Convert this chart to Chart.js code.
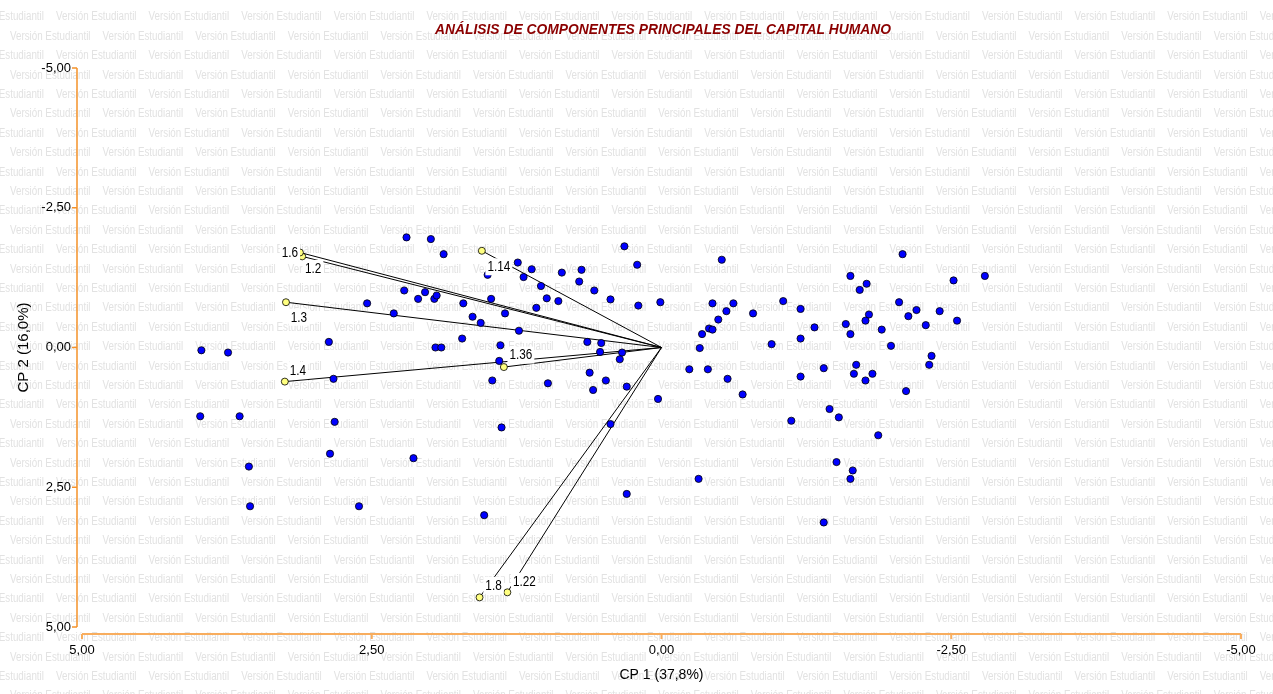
<!DOCTYPE html>
<html>
<head>
<meta charset="utf-8">
<script src="https://cdn.jsdelivr.net/npm/chart.js@4"></script>
<style>
  html, body { margin: 0; padding: 0; background: #ffffff; }
  #wrap { width: 1273px; height: 694px; position: relative; }
</style>
</head>
<body>
<div id="wrap"><canvas id="c"></canvas></div>
<script>
// ---- data ----
const chartTitle = 'ANÁLISIS DE COMPONENTES PRINCIPALES DEL CAPITAL HUMANO';
const xAxisTitle = 'CP 1 (37,8%)';
const yAxisTitle = 'CP 2 (16,0%)';
const watermarkText = 'Versión Estudiantil';

const xTickValues = [5, 2.5, 0, -2.5, -5];
const xTickLabels = ['5,00', '2,50', '0,00', '-2,50', '-5,00'];
const yTickValues = [-5, -2.5, 0, 2.5, 5];
const yTickLabels = ['-5,00', '-2,50', '0,00', '2,50', '5,00'];

// observations (CP1, CP2)
const obsX = [2.20,2.22,2.54,2.31,2.87,3.97,3.74,2.83,3.98,3.64,
  2.82,2.86,3.56,3.55,2.61,1.99,1.88,1.24,1.12,1.19,
  0.86,0.69,0.71,0.58,0.44,1.04,0.99,0.89,1.08,1.50,
  2.04,2.10,1.96,1.94,1.71,1.47,1.35,1.63,1.56,1.23,
  1.72,1.95,1.90,1.39,0.64,0.52,0.53,0.36,1.40,0.62,
  0.48,0.59,1.46,0.98,1.38,0.44,2.14,1.53,0.32,0.21,
  -0.52,0.20,0.01,-0.44,-0.56,-0.62,-0.79,-1.05,-1.20,-0.49,
  -0.41,-0.44,-0.35,-0.95,-1.20,-0.33,0.34,-0.24,-0.40,-0.57,
  -1.20,-0.70,0.30,0.03,-1.12,-0.32,0.30,-2.08,-1.63,-1.77,
  -1.71,-2.52,-2.79,-1.32,-1.59,-1.63,-1.79,-1.76,-1.90,-2.05,
  -2.13,-2.20,-2.40,-2.55,-2.28,-1.98,-2.33,-2.31,-1.40,-1.68,
  -1.66,-1.82,-1.76,-2.11,-1.45,-1.53,-1.87,-1.51,-1.65,-1.63,-1.40];
const obsY = [-1.97,-1.02,-0.79,-0.61,-0.10,0.05,0.09,0.56,1.23,1.23,
  1.33,1.90,2.13,2.84,2.84,-1.94,-1.67,-1.52,-1.40,-1.26,
  -1.34,-1.39,-1.18,-1.02,-0.86,-1.10,-0.88,-0.83,-0.71,-1.30,
  -0.99,-0.87,-0.87,-0.93,-0.79,-0.87,-0.61,-0.55,-0.44,-0.30,
  -0.16,0.00,0.00,-0.04,-0.10,-0.08,0.08,0.21,0.24,0.45,
  0.59,0.76,0.59,0.64,1.43,1.37,1.98,3.00,-1.81,-1.48,
  -1.57,-0.75,-0.81,-0.79,-0.65,-0.79,-0.61,-0.83,-0.69,-0.50,
  -0.34,-0.32,-0.24,-0.06,-0.16,0.01,0.09,0.39,0.39,0.56,
  0.52,0.84,0.70,0.92,1.31,2.35,2.62,-1.67,-1.28,-1.14,
  -1.03,-1.20,-1.28,-0.36,-0.42,-0.24,-0.59,-0.48,-0.32,-0.81,
  -0.56,-0.67,-0.65,-0.48,-0.40,-0.03,0.15,0.31,0.37,0.31,
  0.47,0.47,0.59,0.78,1.10,1.25,1.57,2.05,2.20,2.35,3.13];

// variable vectors (loadings)
const vectorNames = ['1.6', '1.2', '1.3', '1.4', '1.14', '1.36', '1.8', '1.22'];
const vectorX = [3.12, 3.10, 3.24, 3.25, 1.55, 1.36, 1.57, 1.33];
const vectorY = [-1.70, -1.63, -0.81, 0.61, -1.73, 0.35, 4.47, 4.38];

// ---- styles ----
const FONT = '"Liberation Sans", Arial, sans-serif';
const labelOffsets = [[-10,0],[11,12],[13,15],[13,-11],[17,16],[17,-12],[14,-12],[17,-11]];

const backgroundPlugin = {
  id: 'backgroundAndTitle',
  beforeDraw(chart) {
    const ctx = chart.ctx;
    ctx.save();
    ctx.fillStyle = '#ffffff';
    ctx.fillRect(0, 0, chart.width, chart.height);
    // repeated watermark
    ctx.font = '12px ' + FONT;
    ctx.fillStyle = '#e2e2e2';
    ctx.textBaseline = 'middle';
    ctx.textAlign = 'left';
    const period = 92.6;
    for (let k = 0; k < 40; k++) {
      const y = 17 + 19.4 * k;
      if (y > chart.height + 10) break;
      let x = (k % 2 === 0) ? 56 - period : 10 - period;
      for (; x < chart.width; x += period) {
        ctx.fillText(watermarkText, x, y, 80.5);
      }
    }
    ctx.restore();
  },
  afterDraw(chart) {
    const ctx = chart.ctx;
    ctx.save();
    ctx.font = 'italic bold 15px ' + FONT;
    ctx.fillStyle = '#8b0000';
    ctx.textAlign = 'center';
    ctx.textBaseline = 'middle';
    ctx.fillText(chartTitle, 663, 30, 456);
    ctx.restore();
  }
};

const axesPlugin = {
  id: 'customAxes',
  beforeDatasetsDraw(chart) {
    const {ctx, chartArea, scales} = chart;
    const xs = scales.x, ys = scales.y;
    ctx.save();
    // Y axis
    const ax = chartArea.left - 5;
    ctx.strokeStyle = '#f5922a';
    ctx.lineWidth = 1.5;
    ctx.beginPath();
    ctx.moveTo(ax, ys.getPixelForValue(-5));
    ctx.lineTo(ax, ys.getPixelForValue(5));
    yTickValues.forEach(v => {
      const p = ys.getPixelForValue(v);
      ctx.moveTo(ax - 5, p);
      ctx.lineTo(ax, p);
    });
    ctx.stroke();
    // X axis
    const ay = chartArea.bottom + 7;
    ctx.strokeStyle = '#f8ad5e';
    ctx.lineWidth = 2;
    ctx.beginPath();
    ctx.moveTo(xs.getPixelForValue(5), ay);
    ctx.lineTo(xs.getPixelForValue(-5), ay);
    xTickValues.forEach(v => {
      const p = xs.getPixelForValue(v);
      ctx.moveTo(p, ay);
      ctx.lineTo(p, ay + 5);
    });
    ctx.stroke();
    ctx.restore();
  }
};

const labelPlugin = {
  id: 'vectorLabels',
  afterDatasetsDraw(chart) {
    const {ctx, scales} = chart;
    ctx.save();
    ctx.font = '14px ' + FONT;
    ctx.textAlign = 'center';
    ctx.textBaseline = 'middle';
    vectorNames.forEach((name, i) => {
      const px = scales.x.getPixelForValue(vectorX[i]);
      const py = scales.y.getPixelForValue(vectorY[i]);
      const cx = px + labelOffsets[i][0];
      const cy = py + labelOffsets[i][1];
      const tw = ctx.measureText(name).width * 0.84;
      const w = tw + 4;
      const h = 17;
      ctx.fillStyle = '#ffffff';
      ctx.fillRect(cx - w / 2, cy - h / 2, w, h);
      ctx.fillStyle = '#000000';
      ctx.fillText(name, cx, cy + 0.5, tw);
    });
    ctx.restore();
  }
};

const datasets = [];
vectorNames.forEach((name, i) => {
  datasets.push({
    label: name,
    data: [{x: 0, y: 0}, {x: vectorX[i], y: vectorY[i]}],
    showLine: true,
    borderColor: '#000000',
    borderWidth: 1,
    pointRadius: [0, 3.5],
    pointBackgroundColor: '#ffff80',
    pointBorderColor: '#000000',
    pointBorderWidth: 0.8,
    order: 2
  });
});
datasets.push({
  label: 'obs',
  data: obsX.map((x, i) => ({x: x, y: obsY[i]})),
  showLine: false,
  pointRadius: 3.6,
  pointBackgroundColor: '#0000ff',
  pointBorderColor: '#000000',
  pointBorderWidth: 0.8,
  order: 1
});

new Chart(document.getElementById('c'), {
  type: 'scatter',
  data: { datasets },
  options: {
    responsive: true,
    maintainAspectRatio: false,
    animation: false,
    events: [],
    layout: { padding: { left: 0, right: 32, top: 68, bottom: 0 } },
    plugins: {
      legend: { display: false },
      tooltip: { enabled: false },
      title: { display: false }
    },
    scales: {
      x: {
        type: 'linear',
        min: -5, max: 5,
        reverse: true,
        afterFit: s => { s.height = 67; },
        afterBuildTicks: s => { s.ticks = xTickValues.map(v => ({value: v})); },
        ticks: {
          callback: v => xTickLabels[xTickValues.indexOf(v)],
          color: '#000000',
          font: { family: FONT, size: 13 },
          padding: 16,
          maxRotation: 0,
          autoSkip: false
        },
        grid: { display: false, drawTicks: false },
        border: { display: false },
        title: {
          display: true,
          text: xAxisTitle,
          color: '#000000',
          font: { family: FONT, size: 14 },
          padding: { top: 0, bottom: 10 }
        }
      },
      y: {
        type: 'linear',
        min: -5, max: 5,
        reverse: true,
        afterFit: s => { s.width = 82; },
        afterBuildTicks: s => { s.ticks = yTickValues.map(v => ({value: v})); },
        ticks: {
          callback: v => yTickLabels[yTickValues.indexOf(v)],
          color: '#000000',
          font: { family: FONT, size: 13 },
          padding: 11,
          autoSkip: false
        },
        grid: { display: false, drawTicks: false },
        border: { display: false },
        title: {
          display: true,
          text: yAxisTitle,
          color: '#000000',
          font: { family: FONT, size: 15 },
          padding: { top: 15, bottom: 0 }
        }
      }
    }
  },
  plugins: [backgroundPlugin, axesPlugin, labelPlugin]
});
</script>
</body>
</html>
